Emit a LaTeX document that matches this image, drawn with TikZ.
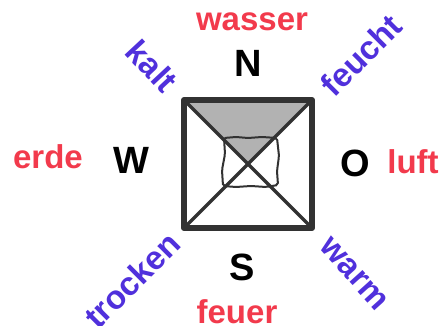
\documentclass[tikz,border=0pt]{standalone}
\usepackage{fontspec}
\setmainfont{Liberation Sans}
\usepackage{tikz}

\definecolor{elemred}{RGB}{242,58,76}
\definecolor{qualblue}{RGB}{80,48,220}
\definecolor{marker}{RGB}{50,50,50}

\begin{document}
\begin{tikzpicture}[x=1pt, y=1pt,
    element/.style={font=\fontsize{33}{36}\selectfont\bfseries, text=elemred, inner sep=0pt},
    quality/.style={font=\fontsize{33}{36}\selectfont\bfseries, text=qualblue, inner sep=0pt},
    compass/.style={font=\fontsize{38}{40}\selectfont\bfseries, text=black, inner sep=0pt}]
  \useasboundingbox (0,0) rectangle (440,326);
  % the square
  \node[minimum size=128pt, inner sep=0pt, outer sep=0pt] (quad) at (248,162) {};
  \fill[black!30] (quad.north west) -- (quad.north east) -- (quad.center) -- cycle;
  \draw[marker, line width=2pt, rounded corners=2pt]
    (223,140) -- (236,139) -- (251,140) -- (266,139) -- (278,141) -- (277,155) -- (279,170) -- (277,188)
    -- (262,189) -- (248,188) -- (236,189) -- (224,188) -- (225,172) -- (222,156) -- cycle;
  \draw[marker, line width=3.5pt] (quad.north west) -- (quad.south east);
  \draw[marker, line width=3.5pt] (quad.north east) -- (quad.south west);
  \draw[marker, line width=6pt, line join=round] (quad.north west) rectangle (quad.south east);
  % directions
  \node[compass] (north) at (248,263) {N};
  \node[compass] (south) at (242,59) {S};
  \node[compass] (west) at (131,166) {W};
  \node[compass] (east) at (355,163) {O};
  % elements
  \node[element] (wasser) at (252,304) {wasser};
  \node[element] (feuer) at (237,14) {feuer};
  \node[element] (erde) at (48,169) {erde};
  \node[element] (luft) at (413,164) {luft};
  % qualities
  \node[quality, rotate=-47] (kalt) at (152,260) {kalt};
  \node[quality, rotate=45] (feucht) at (361,271) {feucht};
  \node[quality, rotate=45] (trocken) at (132,46) {trocken};
  \node[quality, rotate=-48] (warm) at (354,52) {warm};
\end{tikzpicture}
\end{document}
